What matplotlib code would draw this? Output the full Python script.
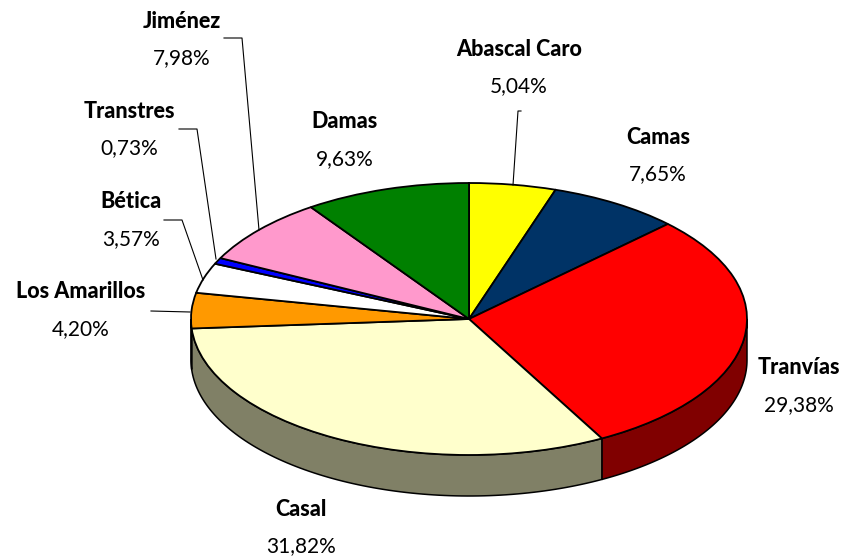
# libraries
import matplotlib
matplotlib.use('Agg')
import matplotlib.pyplot as plt
import numpy as np

# data, clockwise from the top
names = ['Abascal Caro', 'Camas', 'Tranvías', 'Casal', 'Los Amarillos',
         'Bética', 'Transtres', 'Jiménez', 'Damas']
values = [5.04, 7.65, 29.38, 31.82, 4.20, 3.57, 0.73, 7.98, 9.63]
colors = ['#FFFF00', '#003366', '#FF0000', '#FFFFCC', '#FF9900',
          '#FFFFFF', '#0000FF', '#FF99CC', '#008000']
side_colors = ['#808000', '#001933', '#800000', '#808066', '#804C00',
               '#808080', '#000080', '#804C66', '#004000']

W, H = 845, 558
cx, cy, rx, ry, depth = 469, 319, 278, 136, 41
plt.rcParams['font.family'] = ['Lato', 'DejaVu Sans']

fig = plt.figure(figsize=(W / 100, H / 100), dpi=100)

# pie axes: the unit circle becomes the flattened ellipse
ax = fig.add_axes([(cx - rx) / W, 1 - (cy + ry) / H, 2 * rx / W, 2 * ry / H])
d = depth / ry

# side wall, only the front half is visible
edges = np.concatenate([[0], np.cumsum(values)]) / sum(values) * 2 * np.pi
for i in range(len(values)):
    a = max(edges[i], np.pi / 2)
    b = min(edges[i + 1], 3 * np.pi / 2)
    if a >= b:
        continue
    t = np.linspace(a, b, 100)
    x = np.sin(t)
    y = np.cos(t)
    ax.fill(np.r_[x, x[::-1]], np.r_[y, y[::-1] - d], facecolor=side_colors[i],
            edgecolor='black', lw=1.1, clip_on=False, zorder=1)

wedges, _ = ax.pie(values, colors=colors, startangle=90, counterclock=False,
                   wedgeprops=dict(edgecolor='black', linewidth=1.3, zorder=2))
for w in wedges:
    w.set_clip_on(False)
ax.set_aspect('auto')
ax.set_xlim(-1, 1)
ax.set_ylim(-1, 1)
ax.axis('off')

# overlay in pixels for the labels and leader lines
ov = fig.add_axes([0, 0, 1, 1], facecolor='none')
ov.set_xlim(0, W)
ov.set_ylim(H, 0)
ov.axis('off')

label_x = [519, 658, 799, 301, 81, 131, 129, 182, 345]
label_y = [49, 137, 368, 509, 292, 202, 111, 21, 122]
for name, v, lx, ly in zip(names, values, label_x, label_y):
    ov.text(lx, ly, name, ha='center', va='center', fontsize=15.5,
            fontweight='black', color='black')
    ov.text(lx, ly + 37, f'{v:.2f}%'.replace('.', ','), ha='center',
            va='center', fontsize=15, color='black')

leaders = [
    ([521, 518, 513], [111, 111, 185]),
    ([224, 242, 259], [38, 38, 230]),
    ([179, 197, 216], [129, 129, 259]),
    ([164, 182, 203], [220, 220, 280]),
    ([151, 190], [311, 312]),
]
for lxs, lys in leaders:
    ov.plot(lxs, lys, color='black', lw=0.8)

plt.savefig('out.png', dpi=100)
